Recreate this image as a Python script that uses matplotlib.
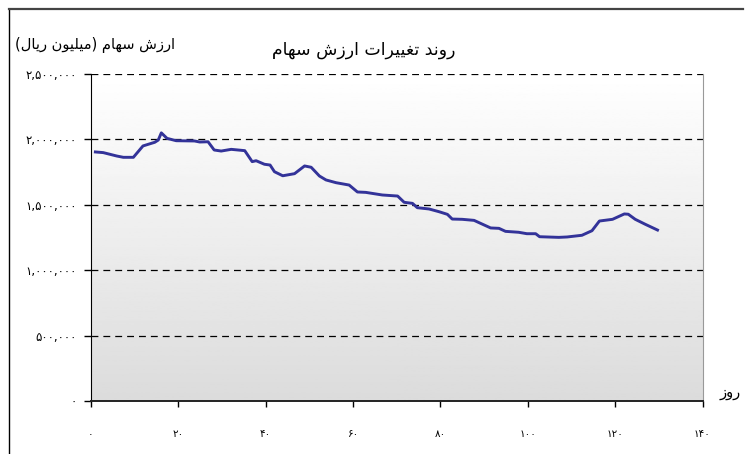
import numpy as np
import matplotlib
matplotlib.use('Agg')
import matplotlib.pyplot as plt
from matplotlib.lines import Line2D

# data (day, share value)
days = [1.0, 2.8, 5.9, 7.4, 9.7, 11.9, 14.6, 15.4, 16.1, 17.4, 19.5, 23.7, 24.9,
        26.8, 28.2, 29.8, 32.1, 35.2, 36.9, 37.8, 39.7, 41.0, 42.0, 43.9, 46.6,
        48.9, 50.4, 52.3, 53.8, 56.1, 59.1, 61.0, 62.9, 66.7, 70.2, 71.7, 73.6,
        74.7, 77.4, 79.7, 81.6, 82.7, 85.0, 87.7, 89.2, 91.5, 93.4, 94.9, 97.9,
        99.8, 101.8, 102.7, 107.1, 109.0, 112.4, 114.7, 116.4, 119.4, 122.1,
        123.0, 124.6, 126.9, 129.7]
values = [1904000, 1899000, 1873000, 1863000, 1863000, 1950000, 1978000, 1995000,
          2050000, 2008000, 1990000, 1988000, 1980000, 1982000, 1919000, 1911000,
          1924000, 1914000, 1830000, 1837000, 1810000, 1804000, 1753000, 1722000,
          1738000, 1797000, 1787000, 1720000, 1690000, 1669000, 1651000, 1598000,
          1595000, 1575000, 1567000, 1519000, 1511000, 1478000, 1468000, 1447000,
          1427000, 1391000, 1389000, 1381000, 1358000, 1323000, 1320000, 1297000,
          1290000, 1279000, 1279000, 1256000, 1251000, 1254000, 1267000, 1302000,
          1376000, 1389000, 1430000, 1428000, 1389000, 1351000, 1307000]
x_ticks = [0, 20, 40, 60, 80, 100, 120, 140]
y_ticks = [0, 500000, 1000000, 1500000, 2000000, 2500000]

title_txt = 'روند تغییرات ارزش سهام'
ylabel_txt = 'ارزش سهام (میلیون ریال)'
xlabel_txt = 'روز'

# minimal arabic shaping (matplotlib has no shaper): iso, final, initial, medial
FORMS = {
    'ا': ('\uFE8D', '\uFE8E', None, None),
    'ر': ('\uFEAD', '\uFEAE', None, None),
    'ز': ('\uFEAF', '\uFEB0', None, None),
    'د': ('\uFEA9', '\uFEAA', None, None),
    'و': ('\uFEED', '\uFEEE', None, None),
    'ن': ('\uFEE5', '\uFEE6', '\uFEE7', '\uFEE8'),
    'ت': ('\uFE95', '\uFE96', '\uFE97', '\uFE98'),
    'غ': ('\uFECD', '\uFECE', '\uFECF', '\uFED0'),
    'ی': ('\uFBFC', '\uFBFD', '\uFEF3', '\uFEF4'),
    'ش': ('\uFEB5', '\uFEB6', '\uFEB7', '\uFEB8'),
    'س': ('\uFEB1', '\uFEB2', '\uFEB3', '\uFEB4'),
    'ه': ('\uFEE9', '\uFEEA', '\uFEEB', '\uFEEC'),
    'م': ('\uFEE1', '\uFEE2', '\uFEE3', '\uFEE4'),
    'ل': ('\uFEDD', '\uFEDE', '\uFEDF', '\uFEE0'),
}

def shape(s):
    out = []
    for i, c in enumerate(s):
        if c not in FORMS:
            out.append(c)
            continue
        prev = s[i-1] if i > 0 else ''
        nxt = s[i+1] if i < len(s)-1 else ''
        jp = prev in FORMS and FORMS[prev][2] is not None
        jn = FORMS[c][2] is not None and nxt in FORMS
        f = FORMS[c]
        if jp and jn:
            out.append(f[3])
        elif jp:
            out.append(f[1])
        elif jn:
            out.append(f[2])
        else:
            out.append(f[0])
    mirror = {'(': ')', ')': '('}
    return ''.join(mirror.get(c, c) for c in reversed(out))

def fa_digits(s):
    return s.translate(str.maketrans('0123456789', '۰۱۲۳۴۵۶۷۸۹'))

plt.rcParams['font.family'] = ['DejaVu Sans']

fig = plt.figure(figsize=(7.49, 4.54), dpi=100)
ax = fig.add_axes([91/749, 1-401/454, 611.5/749, 327/454])

# gradient background
grad = np.linspace(0.86, 1.0, 256).reshape(-1, 1)
ax.imshow(grad, cmap='gray', vmin=0, vmax=1, origin='lower', aspect='auto',
          extent=[0, 140, 0, 2500000], zorder=0)

for yv in y_ticks[1:]:
    ax.axhline(yv, color='black', lw=0.9, dashes=(5.5, 4), zorder=1)

ax.plot(days, values, color='#333399', lw=2.1, zorder=3)

ax.set_xlim(0, 140)
ax.set_ylim(0, 2500000)
ax.set_xticks(x_ticks)
ax.set_xticklabels([fa_digits(str(v)) for v in x_ticks], fontsize=7.5)
ax.set_yticks(y_ticks)
ax.set_yticklabels([fa_digits(f'{v:,}') for v in y_ticks], fontsize=8.5)
ax.tick_params(axis='x', direction='out', length=4, width=1, pad=16)
ax.tick_params(axis='y', direction='out', length=5, width=1, pad=5)

ax.spines['top'].set_visible(False)
ax.spines['right'].set_color('#999999')
ax.spines['left'].set_color('black')
ax.spines['bottom'].set_color('#222222')
ax.spines['bottom'].set_linewidth(1.4)

fig.text(364/749, 1-50/454, shape(title_txt), ha='center', va='center', fontsize=12.5)
fig.text(95/749, 1-45/454, shape(ylabel_txt), ha='center', va='center', fontsize=10.5)
fig.text(730/749, 1-393/454, shape(xlabel_txt), ha='center', va='center', fontsize=10.5)

# outer frame of the chart object
fig.add_artist(Line2D([9/749, 9/749], [0, 1-9/454], color='black', lw=1,
                      transform=fig.transFigure))
fig.add_artist(Line2D([9/749, 743/749], [1-9/454, 1-9/454], color='#444444', lw=1.6,
                      transform=fig.transFigure))

fig.savefig('out.png', dpi=100)
